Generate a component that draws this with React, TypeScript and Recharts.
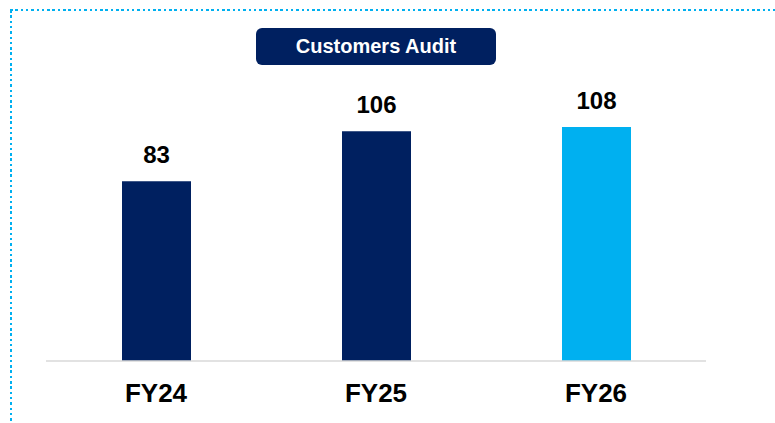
import { BarChart, Bar, XAxis, YAxis, Cell, LabelList } from 'recharts';

const YEARS = ['FY24', 'FY25', 'FY26'];
const AUDITS = [83, 106, 108];
const BAR_COLORS = ['#002060', '#002060', '#00B0F0'];

const data = YEARS.map((year, i) => ({ year, audits: AUDITS[i] }));

const FONT = '"Liberation Sans", Arial, sans-serif';

export default function App() {
  return (
    <div style={{ position: 'absolute', left: 0, top: 0, width: 775, height: 423, background: '#fff', fontFamily: FONT }}>
      {/* dotted frame, top and left only */}
      <svg width={775} height={423} style={{ position: 'absolute', left: 0, top: 0 }} shapeRendering="crispEdges">
        <line x1={10} y1={10} x2={775} y2={10} stroke="#00B0F0" strokeWidth={2.5} strokeDasharray="2.5 2.8" />
        <line x1={11} y1={10} x2={11} y2={423} stroke="#00B0F0" strokeWidth={2.5} strokeDasharray="2.5 2.8" />
      </svg>

      <BarChart
        width={775}
        height={423}
        data={data}
        margin={{ top: 101, right: 69, bottom: 0, left: 46 }}
        style={{ position: 'absolute', left: 0, top: 0 }}
      >
        <XAxis
          dataKey="year"
          height={62}
          axisLine={{ stroke: '#D9D9D9', strokeWidth: 1.5 }}
          tickLine={false}
          tickSize={6}
          tickMargin={17}
          tick={{ fill: '#000', fontSize: 26, fontWeight: 700, fontFamily: FONT }}
        />
        <YAxis hide domain={[0, 120]} />
        <Bar dataKey="audits" barSize={69} isAnimationActive={false}>
          {data.map((d, i) => (
            <Cell key={d.year} fill={BAR_COLORS[i]} />
          ))}
          <LabelList
            dataKey="audits"
            position="top"
            offset={18}
            style={{ fill: '#000', fontSize: 24, fontWeight: 700, fontFamily: FONT }}
          />
        </Bar>
      </BarChart>

      {/* title pill */}
      <div
        style={{
          position: 'absolute',
          left: 256,
          top: 28,
          width: 240,
          height: 37,
          background: '#002060',
          borderRadius: 6,
          color: '#fff',
          fontSize: 20,
          fontWeight: 700,
          display: 'flex',
          alignItems: 'center',
          justifyContent: 'center',
        }}
      >
        Customers Audit
      </div>
    </div>
  );
}
